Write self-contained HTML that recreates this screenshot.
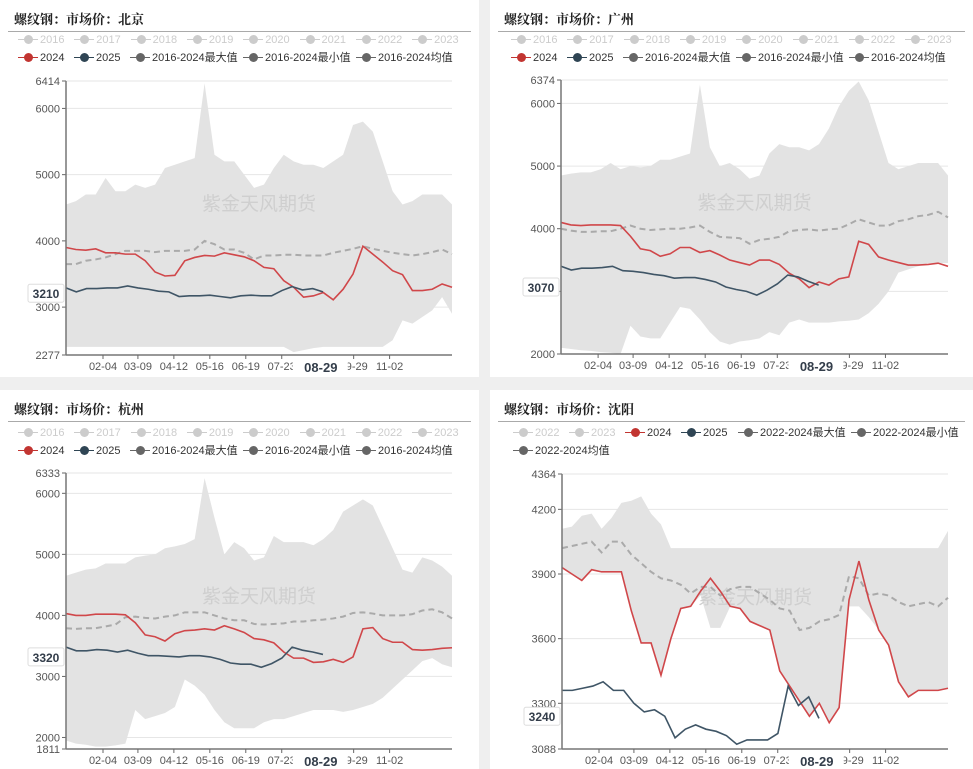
<!DOCTYPE html>
<html><head><meta charset="utf-8"><style>
body{margin:0;width:973px;height:769px;background:#efefef;position:relative;overflow:hidden;font-family:"Liberation Sans","Noto Sans CJK SC",sans-serif}
.panel{position:absolute;background:#fff;overflow:hidden}
.title{position:absolute;left:14px;top:9px;font-size:13px;font-weight:bold;color:#222;font-family:"Liberation Serif","Noto Serif CJK SC",serif}
.hr{position:absolute;left:8px;right:8px;top:31px;height:1px;background:#aaa}
.lg{position:absolute;font-size:11px;color:#333;white-space:nowrap;line-height:12px}
.lg i{position:absolute;left:-22px;top:5px;width:20px;height:1px}
.lg b{position:absolute;left:-16px;top:1px;width:9px;height:9px;border-radius:50%}
.g{color:#ccc}.g i{background:#ccc}.g b{background:#ccc}
.r i{background:#c23531}.r b{background:#c23531}
.d i{background:#2f4554}.d b{background:#2f4554}
.m i{background:#666}.m b{background:#666}
svg{position:absolute;left:0;top:0}
</style></head><body>
<div class="panel" id="p1" style="left:0;top:0;width:479px;height:377px">
<div class="title">螺纹钢：市场价：北京</div><div class="hr"></div>
</div>
<div class="panel" id="p2" style="left:490px;top:0;width:483px;height:377px">
<div class="title">螺纹钢：市场价：广州</div><div class="hr"></div>
</div>
<div class="panel" id="p3" style="left:0;top:390px;width:479px;height:379px">
<div class="title">螺纹钢：市场价：杭州</div><div class="hr"></div>
</div>
<div class="panel" id="p4" style="left:490px;top:390px;width:483px;height:379px">
<div class="title">螺纹钢：市场价：沈阳</div><div class="hr"></div>
</div>
<script>
// ---- data ----
const xTickLabels=["02-04","03-09","04-12","05-16","06-19","07-23","09-29","11-02"];
const xTickDays=[35,68,102,136,170,204,272,306];
const legendYears=["2016","2017","2018","2019","2020","2021","2022","2023"];
const syLegendYears=["2022","2023"];

const bjTicks=[2277,3000,4000,5000,6000,6414];
const bjMax=[4550,4600,4700,4700,4950,4750,4750,4850,4800,4850,5100,5150,5200,5250,6380,5300,5200,5200,5000,4800,4850,5100,5300,5200,5150,5150,5100,5200,5300,5750,5800,5650,5200,4750,4550,4600,4700,4700,4700,4550];
const bjMin=[2400,2400,2400,2400,2400,2400,2400,2400,2400,2400,2400,2400,2400,2400,2400,2400,2400,2400,2400,2400,2400,2400,2400,2320,2350,2380,2400,2400,2400,2400,2400,2400,2400,2500,2800,2750,2850,2950,3150,2900];
const bjAvg=[3650,3650,3700,3720,3750,3800,3850,3850,3850,3830,3850,3850,3850,3870,4000,3950,3870,3870,3820,3720,3780,3780,3790,3790,3780,3780,3780,3820,3850,3880,3920,3880,3850,3820,3800,3780,3800,3830,3870,3800];
const bj2024=[3900,3870,3860,3880,3820,3820,3800,3800,3700,3530,3470,3480,3700,3750,3780,3770,3820,3790,3760,3700,3600,3580,3400,3300,3150,3170,3220,3110,3270,3500,3920,3800,3680,3550,3490,3250,3250,3270,3350,3300];
const bj2025=[3290,3230,3280,3280,3290,3290,3320,3290,3270,3240,3230,3160,3170,3170,3180,3160,3140,3170,3180,3170,3170,3250,3310,3260,3280,3230];

const gzTicks=[2000,3000,4000,5000,6000,6374];
const gzMax=[4850,4880,4900,4900,4950,5050,4950,5000,4980,5000,5100,5100,5150,5200,6300,5300,5000,5050,4950,4800,4850,5200,5350,5300,5300,5250,5350,5600,5950,6200,6350,6050,5550,5050,4950,5000,5050,5050,5050,4850];
const gzMin=[2100,2080,2060,2050,2030,2020,2000,2450,2280,2250,2250,2500,2750,2720,2550,2350,2200,2150,2200,2220,2250,2350,2300,2500,2550,2500,2500,2500,2520,2530,2550,2650,2800,3000,3300,3350,3400,3450,3450,3450];
const gzAvg=[4000,3970,3950,3950,3960,3960,4000,4050,4000,3980,3990,4000,4000,4020,4050,3950,3870,3860,3850,3760,3820,3840,3870,3960,3980,3990,3970,3990,4000,4070,4150,4100,4050,4050,4120,4150,4200,4220,4270,4180];
const gz2024=[4100,4060,4050,4060,4060,4060,4050,3880,3680,3650,3560,3600,3700,3700,3620,3650,3580,3500,3460,3420,3500,3500,3430,3290,3200,3060,3150,3100,3200,3230,3800,3750,3550,3500,3460,3420,3420,3430,3450,3400];
const gz2025=[3400,3340,3370,3370,3380,3400,3330,3320,3300,3270,3250,3210,3220,3220,3190,3150,3070,3030,3000,2940,3020,3120,3260,3230,3160,3100];

const hzTicks=[1811,2000,3000,4000,5000,6000,6333];
const hzMax=[4650,4700,4750,4770,4850,4850,4850,4950,4980,5000,5100,5130,5170,5250,6250,5600,5000,5200,5100,4900,4950,5300,5200,5200,5200,5150,5250,5400,5700,5800,5900,5800,5450,5100,4750,4700,4950,4900,4800,4650];
const hzMin=[1950,1900,1880,1850,1850,1870,1900,2450,2300,2350,2400,2500,2950,2850,2700,2450,2250,2150,2150,2150,2250,2300,2300,2350,2400,2450,2450,2450,2420,2450,2500,2550,2650,2800,2950,3100,3250,3300,3200,3150];
const hzAvg=[3790,3780,3790,3790,3820,3850,3970,3980,3960,3950,3980,4000,4050,4050,4050,4000,3950,3920,3920,3860,3850,3860,3870,3900,3900,3920,3930,3950,3980,4040,4050,4030,4000,4000,4000,4020,4080,4100,4050,3950];
const hz2024=[4030,4000,4000,4020,4020,4020,4010,3880,3680,3650,3580,3700,3750,3760,3780,3760,3830,3780,3720,3620,3600,3550,3400,3300,3300,3230,3240,3280,3230,3320,3780,3800,3620,3560,3560,3440,3430,3440,3460,3470];
const hz2025=[3480,3420,3420,3440,3430,3400,3430,3380,3340,3340,3330,3320,3340,3340,3320,3280,3220,3200,3200,3150,3210,3300,3480,3430,3400,3360];

const syTicks=[3088,3300,3600,3900,4200,4364];
const syMax=[4110,4120,4170,4180,4110,4160,4230,4240,4260,4180,4130,4020,4020,4020,4020,4020,4020,4020,4020,4020,4020,4020,4020,4020,4020,4020,4020,4020,4020,4020,4020,4020,4020,4020,4020,4020,4020,4020,4020,4100];
const syMin=[3930,3900,3870,3920,3910,3910,3910,3730,3580,3580,3430,3600,3740,3750,3800,3650,3650,3750,3740,3680,3660,3640,3450,3380,3310,3240,3300,3210,3280,3750,3750,3700,3640,3570,3400,3330,3360,3360,3360,3370];
const syAvg=[4020,4030,4040,4050,4000,4050,4050,3990,3950,3910,3880,3870,3850,3810,3840,3840,3800,3830,3840,3840,3810,3780,3740,3730,3640,3650,3680,3690,3710,3890,3880,3800,3810,3800,3770,3750,3760,3770,3750,3790];
const sy2024=[3930,3900,3870,3920,3910,3910,3910,3730,3580,3580,3430,3600,3740,3750,3820,3880,3820,3750,3740,3680,3660,3640,3450,3380,3310,3240,3300,3210,3280,3780,3960,3780,3640,3570,3400,3330,3360,3360,3360,3370];
const sy2025=[3360,3360,3370,3380,3400,3360,3360,3300,3260,3270,3240,3140,3180,3200,3180,3170,3150,3110,3130,3130,3130,3160,3380,3290,3330,3230];

const endLabels=["3210","3070","3320","3240"];
const highlightDay=240;
const lastDay2025=243;

const NS="http://www.w3.org/2000/svg";
function mk(tag,parent){const e=document.createElementNS(NS,tag);parent.appendChild(e);return e;}

function legend(panel,items,cls,x0,y,step){
  items.forEach((t,k)=>{
    const d=document.createElement('div');
    d.className='lg '+cls;
    
    
    d.style.left=(x0+k*step)+'px';d.style.top=y+'px';
    d.innerHTML='<i></i><b></b>'+t;
    panel.appendChild(d);
  });
}
function legendAt(panel,t,cls,x,y){
  const d=document.createElement('div');
  d.className='lg '+cls;
  
  
  d.style.left=x+'px';d.style.top=y+'px';
  d.innerHTML='<i></i><b></b>'+t;
  panel.appendChild(d);
}

function draw(id,L,R,T,B,ticks,mx,mn,av,s24,s25,endLabel,w,h){
  const panel=document.getElementById(id);
  const svg=mk('svg',panel);svg.setAttribute('width',w);svg.setAttribute('height',h);
  
  
  const lo=ticks[0],hi=ticks[ticks.length-1];
  const y=v=>B-(v-lo)/(hi-lo)*(B-T);
  const xi=i=>L+i*(R-L)/39;
  const xd=d=>L+d/365*(R-L);
  const x25=i=>L+i*(xd(lastDay2025)-L)/(s25.length-1);
  ticks.forEach(t=>{
    const g=mk('line',svg);g.setAttribute('x1',L);g.setAttribute('x2',R);g.setAttribute('y1',y(t));g.setAttribute('y2',y(t));
    g.setAttribute('stroke','#e6e6e6');
    
    
    const tk=mk('line',svg);tk.setAttribute('x1',L-4);tk.setAttribute('x2',L);tk.setAttribute('y1',y(t));tk.setAttribute('y2',y(t));tk.setAttribute('stroke','#666');
    
    
    const tx=mk('text',svg);tx.textContent=t;tx.setAttribute('x',L-6);tx.setAttribute('y',y(t)+4);
    tx.setAttribute('text-anchor','end');tx.setAttribute('font-size','11');tx.setAttribute('fill','#555');
    
    
  });
  let pts=mx.map((v,i)=>xi(i)+','+y(v));
  for(let i=mn.length-1;i>=0;i--)pts.push(xi(i)+','+y(mn[i]));
  const band=mk('polygon',svg);band.setAttribute('points',pts.join(' '));band.setAttribute('fill','#e3e3e3');
  
  
  const wm=mk('text',svg);wm.textContent='紫金天风期货';wm.setAttribute('x',(L+R)/2);wm.setAttribute('y',T+(B-T)*0.47);
  wm.setAttribute('text-anchor','middle');wm.setAttribute('font-size','19');wm.setAttribute('fill','#cfcfcf');
  
  
  function line(arr,xf,col,dash,name){
    const p=mk('polyline',svg);p.setAttribute('points',arr.map((v,i)=>xf(i)+','+y(v)).join(' '));
    p.setAttribute('fill','none');p.setAttribute('stroke',col);p.setAttribute('stroke-width',dash?2:1.6);
    if(dash)p.setAttribute('stroke-dasharray','6,4');
    
    
  }
  line(av,xi,'#aaaaaa',true,'average-line');
  line(s24,xi,'#d0474a',false,'series-2024-line');
  line(s25,x25,'#3f5566',false,'series-2025-line');
  const ya=mk('line',svg);ya.setAttribute('x1',L);ya.setAttribute('x2',L);ya.setAttribute('y1',T);ya.setAttribute('y2',B);ya.setAttribute('stroke','#777');ya.setAttribute('stroke-width','1.5');
  
  
  const xa=mk('line',svg);xa.setAttribute('x1',L);xa.setAttribute('x2',R);xa.setAttribute('y1',B);xa.setAttribute('y2',B);xa.setAttribute('stroke','#777');xa.setAttribute('stroke-width','1.5');
  
  
  xTickLabels.forEach((t,k)=>{
    const X=xd(xTickDays[k]);
    const tk=mk('line',svg);tk.setAttribute('x1',X);tk.setAttribute('x2',X);tk.setAttribute('y1',B);tk.setAttribute('y2',B+4);tk.setAttribute('stroke','#666');
    
    
    const tx=mk('text',svg);tx.textContent=t;tx.setAttribute('x',X);tx.setAttribute('y',B+15);
    tx.setAttribute('text-anchor','middle');tx.setAttribute('font-size','11');tx.setAttribute('fill','#555');
    
    
  });
  const hx=xd(highlightDay);
  const hb=mk('rect',svg);hb.setAttribute('x',hx-27);hb.setAttribute('y',B+2);hb.setAttribute('width',55);hb.setAttribute('height',18);hb.setAttribute('fill','#fff');
  
  
  const ht=mk('text',svg);ht.textContent='08-29';ht.setAttribute('x',hx+1);ht.setAttribute('y',B+17);
  ht.setAttribute('text-anchor','middle');ht.setAttribute('font-size','13');ht.setAttribute('font-weight','bold');ht.setAttribute('fill','#333d4a');
  
  
  const ev=+endLabel;const ey=y(ev);
  const eb=mk('rect',svg);eb.setAttribute('x',L-38);eb.setAttribute('y',ey-9);eb.setAttribute('width',36);eb.setAttribute('height',18);
  eb.setAttribute('fill','#fff');eb.setAttribute('stroke','#ddd');eb.setAttribute('rx','2');
  
  
  const et=mk('text',svg);et.textContent=endLabel;et.setAttribute('x',L-20);et.setAttribute('y',ey+5);
  et.setAttribute('text-anchor','middle');et.setAttribute('font-size','12');et.setAttribute('font-weight','bold');et.setAttribute('fill','#333d4a');
  
  
}

['p1','p2','p3'].forEach((id,k)=>{
  const p=document.getElementById(id);
  const dx=id==='p2'?3:0, dy=id==='p3'?3:0;
  legend(p,legendYears,'g',40+dx,34+dy,56.3);
  legendAt(p,'2024','r',40+dx,52+dy);
  legendAt(p,'2025','d',96+dx,52+dy);
  legendAt(p,'2016-2024最大值','m',152+dx,52+dy);
  legendAt(p,'2016-2024最小值','m',265+dx,52+dy);
  legendAt(p,'2016-2024均值','m',378+dx,52+dy);
});
(function(){
  const p=document.getElementById('p4');
  legend(p,syLegendYears,'g',45,37,56);
  legendAt(p,'2024','r',157,37);
  legendAt(p,'2025','d',213,37);
  legendAt(p,'2022-2024最大值','m',270,37);
  legendAt(p,'2022-2024最小值','m',383,37);
  legendAt(p,'2022-2024均值','m',45,55);
})();

draw('p1',66,452,81,355,bjTicks,bjMax,bjMin,bjAvg,bj2024,bj2025,endLabels[0],479,377);
draw('p2',71,458,80,354,gzTicks,gzMax,gzMin,gzAvg,gz2024,gz2025,endLabels[1],483,377);
draw('p3',66,452,83,359,hzTicks,hzMax,hzMin,hzAvg,hz2024,hz2025,endLabels[2],479,379);
draw('p4',72,458,84,359,syTicks,syMax,syMin,syAvg,sy2024,sy2025,endLabels[3],483,379);
</script>
</body></html>
